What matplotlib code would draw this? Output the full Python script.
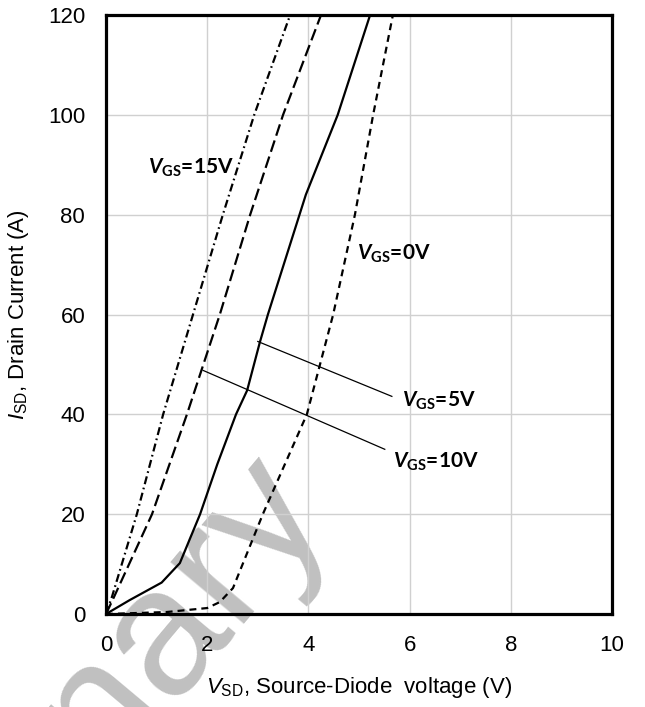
import matplotlib
matplotlib.use("Agg")
import matplotlib.pyplot as plt

# Source-drain diode characteristics, one curve per gate voltage
v_15 = [0, 0.12, 0.61, 1.13, 1.72, 2.31, 2.93, 3.64]
i_15 = [0, 3.5, 20, 40, 60, 80, 100, 120]

v_10 = [0, 0.14, 0.91, 1.60, 2.25, 2.85, 3.50, 4.25]
i_10 = [0, 3, 20, 40, 60, 80, 100, 120]

v_5 = [0, 0.47, 1.10, 1.46, 1.86, 2.20, 2.57, 2.79, 3.04, 3.20, 3.95, 4.58, 5.22]
i_5 = [0, 2.8, 6.3, 10.2, 20, 30, 40, 44.8, 54.4, 60, 84, 100, 120]

v_0 = [0, 1.2, 2.0, 2.25, 2.51, 3.10, 3.97, 4.49, 4.92, 5.28, 5.67]
i_0 = [0, 0.4, 1.2, 2.4, 5.2, 20, 40, 60, 80, 100, 120]

labels = ["15V", "10V", "5V", "0V"]

plt.rcParams["mathtext.fontset"] = "custom"
plt.rcParams["mathtext.rm"] = "Liberation Sans"
plt.rcParams["mathtext.it"] = "Liberation Sans:italic"
plt.rcParams["mathtext.bf"] = "Lato:bold"
plt.rcParams["mathtext.bfit"] = "Lato:italic:bold"
plt.rcParams["font.family"] = "Liberation Sans"
plt.rcParams["lines.scale_dashes"] = False

fig = plt.figure(figsize=(6.45, 7.07), dpi=100)
ax = fig.add_axes([0.1643, 0.1315, 0.7845, 0.8473])
ax.patch.set_alpha(0)

# watermark behind the axes
fig.text(0.509, 0.284, "Preliminary", fontsize=130, color="#c0c0c0",
         rotation=50, rotation_mode="anchor", ha="right", va="baseline",
         zorder=-1)

lw = 1.6
ax.plot(v_15, i_15, color="black", lw=lw, dashes=(5.8, 2.6, 1.2, 2.6))
ax.plot(v_10, i_10, color="black", lw=lw, dashes=(8.6, 3.6))
ax.plot(v_5, i_5, color="black", lw=lw)
ax.plot(v_0, i_0, color="black", lw=lw, dashes=(5.0, 3.6))

# leader lines to the 5V and 10V labels
ax.plot([3.00, 5.65], [54.6, 43.6], color="black", lw=0.9)
ax.plot([1.92, 5.51], [48.8, 33.0], color="black", lw=0.9)

lab_kw = dict(fontsize=15, fontweight="bold", family="Lato", va="center", ha="left")
ax.text(0.83, 89.4, r"$\mathbfit{V}_{\mathbf{GS}}$=" + labels[0], **lab_kw)
ax.text(4.96, 72.2, r"$\mathbfit{V}_{\mathbf{GS}}$=" + labels[3], **lab_kw)
ax.text(5.85, 42.8, r"$\mathbfit{V}_{\mathbf{GS}}$=" + labels[2], **lab_kw)
ax.text(5.67, 30.4, r"$\mathbfit{V}_{\mathbf{GS}}$=" + labels[1], **lab_kw)

ax.set_xlim(0, 10)
ax.set_ylim(0, 120)
ax.set_xticks(range(0, 11, 2))
ax.set_yticks(range(0, 121, 20))
ax.grid(True, color="#d0d0d0", lw=1.0)
ax.set_axisbelow(True)
ax.tick_params(length=0, labelsize=16, pad=15)
for sp in ax.spines.values():
    sp.set_linewidth(2.3)
    sp.set_zorder(5)

ax.set_xlabel(r"$\mathit{V}_{\mathrm{SD}}$, Source-Diode  voltage (V)", fontsize=16, labelpad=14)
ax.set_ylabel(r"$\mathit{I}_{\mathrm{SD}}$, Drain Current (A)", fontsize=16, labelpad=12)

fig.savefig("out.png", dpi=100)
